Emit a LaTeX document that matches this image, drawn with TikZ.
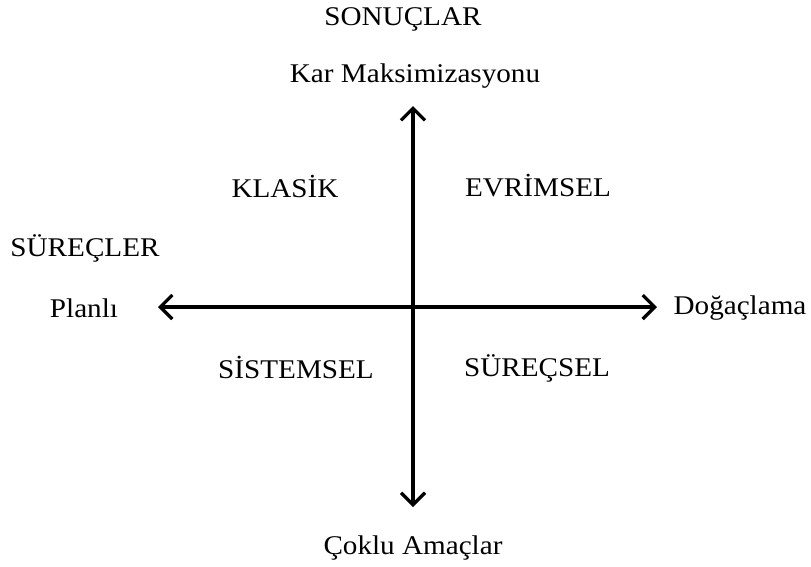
\documentclass[tikz,border=0pt]{standalone}
\usepackage{fontspec}
\setmainfont{Liberation Serif}
\usetikzlibrary{arrows.meta}
\begin{document}
\begin{tikzpicture}[x=1pt,y=-1pt,
  lbl/.style={font=\fontsize{27}{30}\selectfont, inner sep=0pt, xscale=1.08, transform shape, text=black},
  axis/.style={line width=3.2pt, -{Straight Barb[length=12pt,width=24pt,line width=3.2pt]}, black}]
\useasboundingbox (0,0) rectangle (811,566);
\coordinate (c) at (413,307);
\coordinate (top) at (413,106);
\coordinate (bot) at (413,507);
\coordinate (lft) at (158,307);
\coordinate (rgt) at (657,307);
\draw[axis] (c) -- (top);
\draw[axis] (c) -- (bot);
\draw[axis] (c) -- (lft);
\draw[axis] (c) -- (rgt);
\node[lbl] (sonuc) at (403,19) {SONUÇLAR};
\node[lbl] (kar) at (415,76) {Kar Maksimizasyonu};
\node[lbl] (cok) at (413,548) {Çoklu Amaçlar};
\node[lbl] (surec) at (85,248) {SÜREÇLER};
\node[lbl] (plan) at (84,308) {Planlı};
\node[lbl] (dog) at (740,308) {Doğaçlama};
\node[lbl] (klasik) at (285,186) {KLASİK};
\node[lbl] (evrim) at (538,186) {EVRİMSEL};
\node[lbl] (sistem) at (296,367) {SİSTEMSEL};
\node[lbl] (surecsel) at (537,368) {SÜREÇSEL};
\end{tikzpicture}
\end{document}
